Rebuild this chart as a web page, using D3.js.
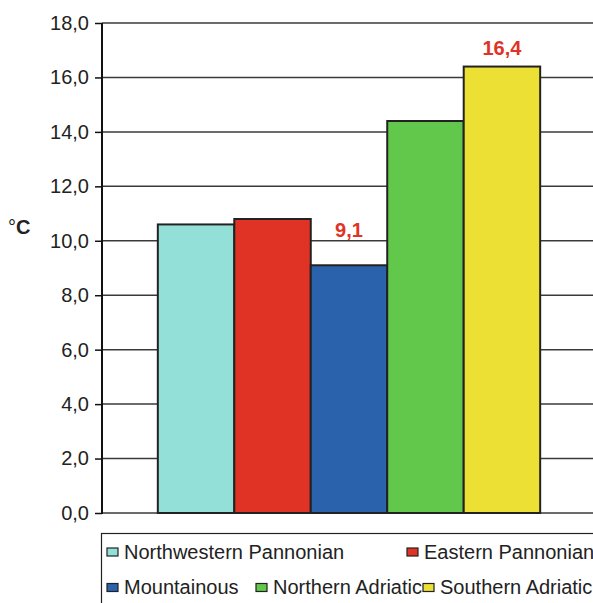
<!DOCTYPE html>
<html><head><meta charset="utf-8">
<script src="https://cdn.jsdelivr.net/npm/d3@7"></script>
<style>body{margin:0;background:#fff}svg{display:block;font-family:"Liberation Sans",Arial,sans-serif}</style>
</head><body>
<svg id="c" width="593" height="603"></svg>
<script>
const categories = ["Northwestern Pannonian","Eastern Pannonian","Mountainous","Northern Adriatic","Southern Adriatic"];
const values = [10.6, 10.8, 9.1, 14.4, 16.4];
const colors = ["#93e0d8","#e03325","#2a62ab","#62c84c","#ebe033"];
const labelled = [false, false, true, false, true];
const yTicks = [0,2,4,6,8,10,12,14,16,18];

const svg = d3.select("#c");
const mLeft = 102, mTop = 23, mBottom = 513, mRight = 596;
const y = d3.scaleLinear().domain([0,18]).range([mBottom, mTop]);
const x = d3.scaleBand().domain(categories).range([mLeft, mRight]).paddingInner(0).paddingOuter(0.73);
const fmt = v => d3.format(".1f")(v).replace(".", ",");

// gridlines
svg.append("g").selectAll("line").data(yTicks).join("line")
  .attr("x1", mLeft).attr("x2", 593).attr("y1", d=>y(d)).attr("y2", d=>y(d))
  .attr("stroke", "#3a3a3a").attr("stroke-width", 1.5);

// bars
svg.append("g").selectAll("rect").data(categories).join("rect")
  .attr("x", d=>x(d)).attr("width", x.bandwidth())
  .attr("y", (d,i)=>y(values[i])).attr("height", (d,i)=>y(0)-y(values[i]))
  .attr("fill", (d,i)=>colors[i]).attr("stroke", "#222").attr("stroke-width", 2);

// y axis
const ax = svg.append("g").attr("transform", `translate(${mLeft},0)`)
  .call(d3.axisLeft(y).tickValues(yTicks).tickFormat(fmt).tickSize(7).tickPadding(6));
ax.select(".domain").attr("stroke", "#111").attr("stroke-width", 2).attr("d", `M0,${mTop}V${mBottom+1}`);
ax.selectAll(".tick line").attr("stroke", "#111").attr("stroke-width", 1.5);
ax.selectAll(".tick text").attr("font-size", 20).attr("fill", "#222")
  .attr("font-family", "'Liberation Sans', Arial, sans-serif");

// value labels (gap above bar top, in px)
const labelGap = {"Mountainous": 28, "Southern Adriatic": 12};
svg.append("g").selectAll("text").data(categories.filter((d,i)=>labelled[i])).join("text")
  .attr("x", d=>x(d)+x.bandwidth()/2)
  .attr("y", d=>y(values[categories.indexOf(d)]) - labelGap[d])
  .attr("text-anchor", "middle").attr("font-size", 20).attr("font-weight", "bold")
  .attr("fill", "#e03325").text(d=>fmt(values[categories.indexOf(d)]));

// unit label
const u = svg.append("text").attr("x", 8).attr("y", 234).attr("font-size", 20).attr("fill", "#222");
u.append("tspan").text("°");
u.append("tspan").attr("font-weight", "bold").text("C");

// legend
svg.append("rect").attr("x", 101.5).attr("y", 533.5).attr("width", 500).attr("height", 80)
  .attr("fill", "none").attr("stroke", "#222").attr("stroke-width", 1.2);
const legendPos = [[107,552],[407,552],[107,587.5],[256,587.5],[423,587.5]];
const lg = svg.append("g").selectAll("g").data(categories).join("g")
  .attr("transform", (d,i)=>`translate(${legendPos[i][0]},${legendPos[i][1]})`);
lg.append("rect").attr("x", 0).attr("y", -4).attr("width", 11).attr("height", 8)
  .attr("fill", (d,i)=>colors[i]).attr("stroke", "#222").attr("stroke-width", 1.2);
lg.append("text").attr("x", 17).attr("y", 6.5).attr("font-size", 20).attr("fill", "#222").text(d=>d);
</script>
</body></html>
